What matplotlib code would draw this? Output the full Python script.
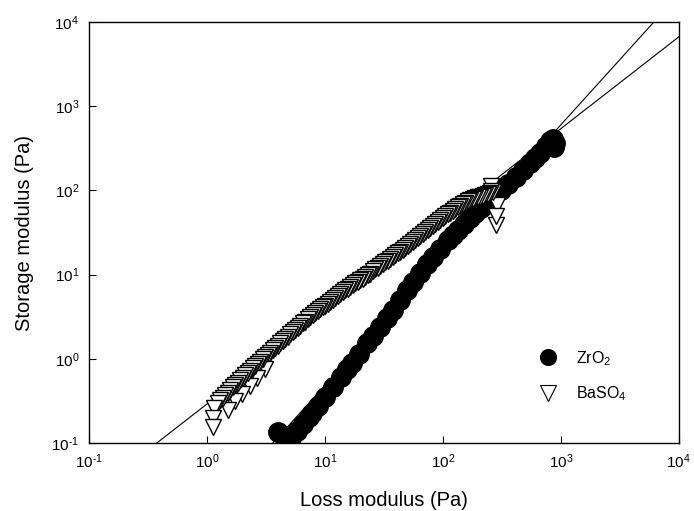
import numpy as np
import matplotlib.pyplot as plt
from matplotlib.lines import Line2D
from matplotlib.ticker import LogLocator, NullLocator, FuncFormatter

plt.rcParams['font.family'] = ['Liberation Sans', 'DejaVu Sans']
plt.rcParams['mathtext.fontset'] = 'custom'
plt.rcParams['mathtext.rm'] = 'Liberation Sans'
plt.rcParams['mathtext.it'] = 'Liberation Sans:italic'
plt.rcParams['mathtext.default'] = 'regular'

# ZrO2 suspension: loss modulus G'' vs storage modulus G' (Pa)
zro2_loss = [4.00, 4.58, 5.15, 5.79, 6.51, 7.32, 7.76, 8.72, 10.0, 11.7, 13.7, 15.4,
             16.9, 19.4, 22.7, 25.5, 29.3, 33.5, 37.7, 43.2, 49.5, 55.7, 63.9, 73.2,
             82.3, 94.3, 110, 122, 134, 151, 169, 187, 210, 231, 265, 310, 356, 416,
             476, 546, 602, 664, 746, 807, 856, 890, 873]
zro2_storage = [0.135, 0.112, 0.115, 0.139, 0.168, 0.204, 0.227, 0.275, 0.352, 0.462,
                0.608, 0.757, 0.892, 1.14, 1.54, 1.87, 2.39, 3.05, 3.80, 4.99, 6.56,
                8.17, 10.5, 13.4, 16.2, 20.1, 25.8, 29.5, 33.9, 39.9, 47.0, 53.9, 61.8,
                70.9, 83.5, 101, 119, 144, 175, 212, 243, 278, 337, 386, 408, 366, 328]

# BaSO4 suspension
baso4_loss = [
    # low-G'' end
    1.135, 1.135, 1.146, 1.507, 1.727, 1.98, 2.314, 2.653, 3.101,
    # main run
    1.239, 1.301, 1.366, 1.434, 1.507, 1.582, 1.661, 1.744, 1.831, 1.923,
    2.019, 2.120, 2.226, 2.337, 2.454, 2.577, 2.705, 2.840, 2.983, 3.132,
    3.288, 3.452, 3.625, 3.806, 3.997, 4.197, 4.406, 4.626, 4.858, 5.101,
    5.356, 5.624, 5.905, 6.200, 6.510, 6.836, 7.177, 7.536, 7.913, 8.309,
    8.724, 9.160, 9.618, 10.10, 10.60, 11.13, 11.69, 12.27, 12.89, 13.53,
    14.21, 14.92, 15.66, 16.44, 17.27, 18.13, 19.04, 19.99, 20.99, 22.04,
    23.14, 24.30, 25.51, 26.79, 28.13, 29.54, 31.01, 32.56, 34.19, 35.90,
    37.70, 39.59, 41.56, 43.64, 45.82, 48.11, 50.51, 53.04, 55.69, 58.47,
    61.40, 64.47, 67.69, 71.07, 74.63, 78.36, 82.28, 86.39, 90.7, 95.2,
    100, 105, 110.3, 115.8, 121.6, 127.7, 134.0, 140.7, 147.8, 155.2,
    162.9, 171.0, 179.6, 188.6, 198.0, 207.9, 218.3, 229.2, 240.7, 252.7,
    265.3,
    # high-G'' end
    255, 255, 281, 284, 287]
baso4_storage = [
    0.155, 0.201, 0.264, 0.2465, 0.315, 0.382, 0.475, 0.592, 0.757,
    0.299, 0.320, 0.342, 0.367, 0.395, 0.427, 0.462, 0.492, 0.523, 0.556,
    0.592, 0.634, 0.678, 0.726, 0.775, 0.824, 0.873, 0.926, 0.984, 1.045,
    1.11, 1.18, 1.26, 1.34, 1.43, 1.53, 1.63, 1.73, 1.84, 1.95,
    2.07, 2.20, 2.34, 2.48, 2.63, 2.77, 2.94, 3.10, 3.29, 3.48,
    3.67, 3.86, 4.07, 4.28, 4.51, 4.74, 4.99, 5.26, 5.54, 5.83,
    6.15, 6.49, 6.84, 7.18, 7.51, 7.86, 8.21, 8.58, 8.97, 9.37,
    9.82, 10.3, 10.9, 11.5, 12.1, 12.7, 13.4, 14.0, 14.7, 15.5,
    16.2, 17.0, 17.9, 18.8, 19.8, 20.8, 21.9, 23.1, 24.3, 25.7,
    27.1, 28.6, 30.3, 32.0, 33.8, 35.8, 37.8, 39.9, 42.0, 44.4,
    46.9, 49.4, 52.0, 54.5, 57.3, 60.0, 62.8, 65.8, 68.5, 71.2,
    74.2, 77.1, 79.7, 81.2, 82.6, 84.2, 85.8, 88.2, 90.6, 93.1,
    95.7,
    99.7, 114, 50.3, 38.3, 68.0]

# power-law fits G' = a * G''^b
fit_zro2 = (0.0136, 1.548)
fit_baso4 = (0.29, 1.09)


def log_label(v, pos):
    e = int(round(np.log10(v)))
    if e < 0:
        return r'$10^{\text{-}%d}$' % -e
    return r'$10^{%d}$' % e


fig = plt.figure(figsize=(6.94, 5.11), dpi=100)
ax = fig.add_axes([0.128, 0.133, 0.850, 0.824])

xfit = np.array([0.1, 1e4])
for a, b in (fit_zro2, fit_baso4):
    ax.plot(xfit, a * xfit ** b, color='black', lw=0.8, zorder=1)

ax.plot(zro2_loss, zro2_storage, 'o', ms=14, color='black', mec='black', zorder=2)

# drawn from high to low G'' so the low-G'' triangles sit on top
order = np.argsort(baso4_loss, kind='stable')[::-1]
ax.plot(np.array(baso4_loss)[order], np.array(baso4_storage)[order], 'v', ms=12,
        mfc='white', mec='black', mew=1.0, zorder=3)

ax.set_xscale('log')
ax.set_yscale('log')
ax.set_xlim(0.1, 1e4)
ax.set_ylim(0.1, 1e4)
for axis in (ax.xaxis, ax.yaxis):
    axis.set_major_locator(LogLocator(base=10, numticks=10))
    axis.set_minor_locator(NullLocator())
    axis.set_major_formatter(FuncFormatter(log_label))
ax.tick_params(direction='in', length=5, width=0.8, labelsize=11, pad=7)

for sp in ax.spines.values():
    sp.set_linewidth(1.0)

ax.set_xlabel('Loss modulus (Pa)', fontsize=14.5, labelpad=14)
ax.set_ylabel('Storage modulus (Pa)', fontsize=14.5, labelpad=12)

handles = [
    Line2D([], [], ls='none', marker='o', ms=11.3, color='black'),
    Line2D([], [], ls='none', marker='v', ms=12, mfc='white', mec='black', mew=0.8),
]
ax.legend(handles, ['ZrO$_2$', 'BaSO$_4$'], loc='upper left',
          bbox_to_anchor=(538 / 694, 1 - 349 / 511), bbox_transform=fig.transFigure,
          frameon=False, fontsize=11.5, handlelength=1.2, handletextpad=1.15,
          labelspacing=1.05, borderpad=0, borderaxespad=0)

fig.savefig('out.png', dpi=100)
